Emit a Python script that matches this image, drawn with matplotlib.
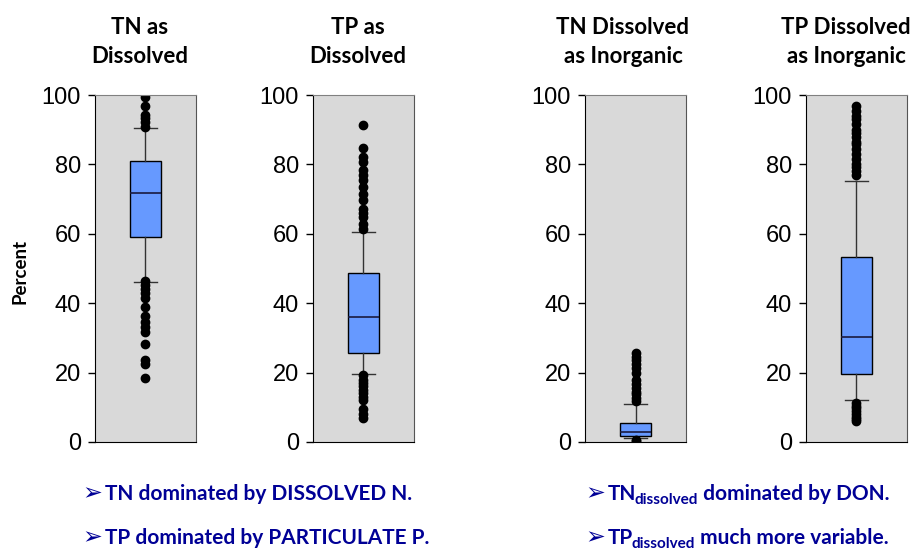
import matplotlib
matplotlib.use("Agg")
import matplotlib.pyplot as plt

# panel titles
titles = ["TN as\nDissolved", "TP as\nDissolved", "TN Dissolved\nas Inorganic", "TP Dissolved\nas Inorganic"]

# box statistics (percent)
q1 = [59.1, 25.6, 1.7, 19.7]
med = [71.7, 36.1, 2.9, 30.2]
q3 = [81.1, 48.6, 5.5, 53.3]
whislo = [46.0, 19.7, 1.2, 12.0]
whishi = [90.4, 60.5, 11.0, 75.1]

fliers = [
    [99.5, 96.8, 94.3, 93.3, 92.1, 90.9,
     46.4, 45.2, 44.0, 42.8, 41.6, 38.9, 36.3, 34.7, 33.1, 31.8, 28.2, 23.6, 22.4, 18.4],
    [91.3, 84.6, 82.0, 80.6, 78.5, 77.0, 75.5, 73.4, 71.5, 69.6, 67.2, 66.0, 64.8, 62.9, 61.5,
     19.2, 18.0, 17.0, 16.0, 15.0, 14.1, 13.0, 12.2, 9.4, 8.2, 7.0],
    [25.6, 24.5, 23.7, 22.5, 21.3, 20.0, 18.0, 16.8, 15.6, 14.5, 13.7, 12.8, 11.8, 0.3, 0.6],
    [96.8, 95.5, 94.0, 93.0, 91.5, 90.0, 89.0, 88.0, 86.5, 85.8, 84.5, 83.0, 81.5, 80.0, 79.2, 78.0, 77.0,
     11.3, 10.5, 9.8, 8.9, 8.0, 7.2, 6.5, 6.0],
]

yticks = [0, 20, 40, 60, 80, 100]

notes_left = ["TN dominated by DISSOLVED N.", "TP dominated by PARTICULATE P."]
notes_right = [("TN", " dominated by DON."), ("TP", " much more variable.")]

NAVY = "#000096"
BOLD_FONT = ["Lato", "DejaVu Sans"]

fig = plt.figure(figsize=(9.12, 5.5), dpi=100)

lefts = [95, 313, 585, 806]
title_x = [140, 358, 623, 846]
for i in range(4):
    ax = fig.add_axes([lefts[i] / 912, 1 - 442 / 550, 101 / 912, 347 / 550])
    ax.set_facecolor("#D9D9D9")
    stats = [dict(med=med[i], q1=q1[i], q3=q3[i], whislo=whislo[i], whishi=whishi[i], fliers=fliers[i])]
    ax.bxp(stats, positions=[1], widths=0.3, patch_artist=True,
           boxprops=dict(facecolor="#6699FF", edgecolor="black", linewidth=1),
           medianprops=dict(color="#1a1a40", linewidth=1.2),
           whiskerprops=dict(color="#333333", linewidth=1),
           capprops=dict(color="#333333", linewidth=1),
           capwidths=0.22,
           flierprops=dict(marker="o", markerfacecolor="black", markeredgecolor="black", markersize=6))
    ax.set_xlim(0.5, 1.5)
    ax.set_ylim(0, 100)
    ax.set_xticks([])
    ax.set_yticks(yticks)
    ax.tick_params(axis="y", direction="out", length=5, width=1, pad=5, labelsize=17)
    for lab in ax.get_yticklabels():
        lab.set_fontfamily("Liberation Sans")
    ax.spines["top"].set_color("#808080")
    ax.spines["right"].set_color("#555555")
    ax.spines["left"].set_color("black")
    ax.spines["bottom"].set_color("black")
    fig.text(title_x[i] / 912, 1 - 42 / 550, titles[i], ha="center", va="center",
             fontsize=16, fontweight="bold", family=BOLD_FONT, linespacing=1.45)

fig.text(20 / 912, 1 - 271 / 550, "Percent", rotation=90, ha="center", va="center",
         fontsize=13.5, fontweight="bold", family=BOLD_FONT)


def bullet(x, y):
    # arrow bullet, returns the artist so the line can follow it
    return fig.text(x / 912, y, "\u27a2", ha="left", va="baseline", fontsize=17,
                    color=NAVY, family="DejaVu Sans")


ys = [1 - 500 / 550, 1 - 544 / 550]
for k in range(2):
    a = bullet(82, ys[k])
    plt.annotate(notes_left[k], xy=(1, ys[k]), xycoords=(a, "figure fraction"), xytext=(2.5, 0),
                 textcoords="offset points", ha="left", va="baseline",
                 fontsize=15, fontweight="bold", color=NAVY, family=BOLD_FONT)
    head, tail = notes_right[k]
    a = bullet(585, ys[k])
    t1 = plt.annotate(head, xy=(1, ys[k]), xycoords=(a, "figure fraction"), xytext=(2.5, 0),
                      textcoords="offset points", ha="left", va="baseline",
                      fontsize=15, fontweight="bold", color=NAVY, family=BOLD_FONT)
    t2 = plt.annotate("dissolved", xy=(1, 0), xycoords=t1, xytext=(-1.5, -2.5), textcoords="offset points",
                      ha="left", va="bottom", fontsize=11, fontweight="bold", color=NAVY, family=BOLD_FONT)
    plt.annotate(tail, xy=(1, 0), xycoords=(t2, t1), ha="left", va="bottom",
                 fontsize=15, fontweight="bold", color=NAVY, family=BOLD_FONT)

fig.savefig("out.png", dpi=100)
